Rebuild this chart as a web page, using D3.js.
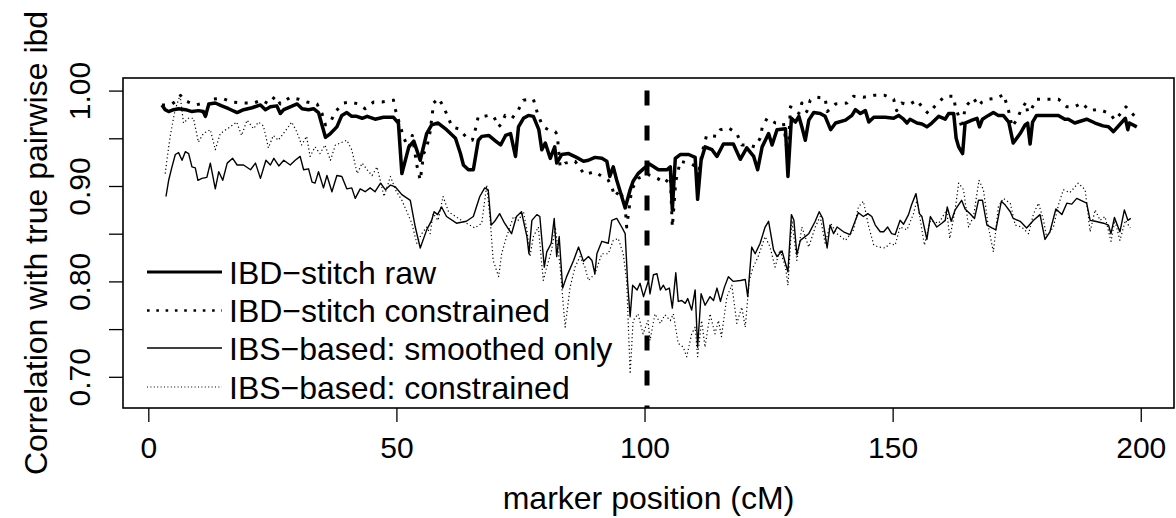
<!DOCTYPE html>
<html>
<head>
<meta charset="utf-8">
<script src="https://cdnjs.cloudflare.com/ajax/libs/d3/7.8.5/d3.min.js"></script>
<style>
  body { margin: 0; background: #fff; }
  text { font-family: "Liberation Sans", Arial, Helvetica, sans-serif; fill: #000; }
</style>
</head>
<body>
<div id="chart"></div>
<script>
// IBD-stitch raw (marker position in cM, correlation)
const rawPos = [2.75,3.4,4.1,5.1,6.1,7.5,8.8,10.1,11.1,11.5,12.2,13.5,14.8,16.2,17.9,19.2,20.9,22.6,23.6,24.6,25.9,26.6,27.3,28.6,30.0,31.0,32.3,33.3,34.3,35.0,35.7,36.7,38.0,39.0,40.0,41.0,42.0,43.1,44.1,45.7,47.4,49.4,50.4,
  51.1,52.5,53.5,54.8,56.1,57.1,58.4,60.1,61.9,62.9,63.5,64.5,65.5,66.5,67.2,68.6,70.0,71.0,72.0,73.0,74.0,74.6,75.6,76.6,77.6,78.7,79.3,80.0,81.0,81.9,82.3,83.3,84.7,86.3,87.7,88.7,90.0,91.4,92.4,93.0,93.7,94.4,96.1,97.1,97.7,98.7,100.0,101.0,
  102.8,104.5,105.2,105.6,106.2,107.2,108.9,110.2,110.7,111.4,112.2,113.6,114.6,115.9,117.9,119.3,120.6,122.0,122.8,123.7,125.0,125.7,126.7,128.4,128.9,129.6,130.4,131.1,131.7,132.4,133.1,134.1,135.4,136.4,137.5,138.5,140.5,141.8,142.5,143.5,144.5,145.2,146.2,148.5,150.2,
  151.2,152.2,152.9,153.5,154.9,155.9,156.9,157.9,159.3,160.6,161.3,162.3,162.8,163.3,164.1,164.6,166.0,167.0,167.5,168.1,169.3,170.3,171.3,172.3,173.4,174.3,175.7,176.7,177.2,177.7,178.2,179.0,180.7,183.4,184.7,185.4,186.7,189.1,190.8,192.4,193.5,194.5,196.9,197.4,197.7,199.2];
const rawCor = [0.985,0.980,0.978,0.980,0.981,0.980,0.978,0.979,0.978,0.973,0.986,0.987,0.984,0.981,0.977,0.980,0.982,0.985,0.980,0.983,0.984,0.976,0.980,0.983,0.986,0.981,0.980,0.981,0.977,0.964,0.951,0.955,0.962,0.974,0.977,0.973,0.973,0.971,0.973,0.970,0.972,0.972,0.966,
  0.913,0.941,0.947,0.927,0.955,0.964,0.966,0.959,0.950,0.934,0.922,0.917,0.917,0.948,0.952,0.953,0.947,0.943,0.953,0.955,0.931,0.962,0.971,0.974,0.973,0.959,0.938,0.945,0.929,0.941,0.924,0.933,0.934,0.930,0.926,0.927,0.930,0.929,0.926,0.910,0.920,0.906,0.877,0.896,0.905,0.913,0.919,0.923,
  0.917,0.917,0.920,0.875,0.929,0.933,0.933,0.930,0.886,0.927,0.941,0.938,0.931,0.944,0.944,0.928,0.940,0.931,0.917,0.941,0.955,0.943,0.959,0.960,0.910,0.971,0.967,0.973,0.962,0.948,0.969,0.977,0.976,0.973,0.959,0.966,0.969,0.974,0.980,0.976,0.979,0.967,0.972,0.972,0.971,
  0.974,0.970,0.966,0.970,0.966,0.965,0.962,0.966,0.973,0.970,0.976,0.976,0.950,0.941,0.934,0.966,0.969,0.971,0.962,0.970,0.974,0.977,0.974,0.974,0.967,0.945,0.955,0.964,0.966,0.944,0.967,0.974,0.974,0.974,0.970,0.970,0.966,0.970,0.966,0.963,0.962,0.957,0.971,0.959,0.966,0.962];

// IBD-stitch constrained
const conPos = [2.75,3.5,4.8,5.8,6.5,7.3,8.1,9.5,10.5,11.4,12.5,14.8,16.9,19.2,21.2,22.9,24.2,25.6,26.6,28.6,30.3,32.0,34.0,35.0,35.7,36.7,37.7,39.4,40.7,42.4,43.7,45.4,47.1,49.4,49.8,51.5,52.5,53.2,54.1,54.8,55.5,56.1,56.8,57.5,58.5,59.5,60.5,61.2,62.5,64.3,65.3,65.9,66.5,67.6,68.6,69.6,70.6,71.3,71.9,73.3,74.6,75.6,77.6,78.6,79.6,80.6,82.0,82.4,83.0,84.0,86.0,87.9,90.0,91.4,92.7,93.4,94.0,95.1,96.1,96.4,97.4,98.7,
  100.7,102.6,104.1,105.2,105.6,106.3,107.2,109.5,110.4,110.8,111.6,112.5,114.6,115.3,116.9,118.6,119.6,120.9,122.3,123.3,123.7,124.7,126.4,128.0,128.9,129.4,130.4,131.1,131.7,132.7,133.4,134.8,136.4,136.8,138.5,140.8,142.1,144.1,146.2,148.4,150.2,150.8,151.8,153.2,154.9,156.2,157.2,158.9,160.5,162.3,162.6,163.5,164.0,164.3,164.6,166.3,167.3,168.0,169.3,171.0,172.4,173.0,173.7,174.0,175.0,175.9,176.9,177.2,177.9,179.0,181.0,183.4,185.1,186.7,188.1,189.7,191.0,191.7,193.8,194.8,196.1,197.0,199.0];
const conCor = [0.985,0.985,0.986,0.990,0.995,0.990,0.988,0.985,0.986,0.971,0.991,0.992,0.988,0.987,0.987,0.990,0.986,0.994,0.986,0.993,0.991,0.988,0.986,0.976,0.964,0.967,0.978,0.987,0.988,0.986,0.981,0.988,0.988,0.990,0.980,0.950,0.940,0.953,0.922,0.906,0.934,0.940,0.957,0.987,0.992,0.983,0.971,0.962,0.960,0.950,0.948,0.959,0.973,0.973,0.974,0.973,0.962,0.966,0.974,0.971,0.980,0.990,0.991,0.973,0.962,0.959,0.957,0.954,0.920,0.924,0.926,0.912,0.915,0.910,0.906,0.899,0.889,0.896,0.878,0.857,0.896,0.908,
  0.912,0.908,0.903,0.910,0.857,0.905,0.926,0.923,0.920,0.910,0.935,0.953,0.952,0.959,0.961,0.955,0.943,0.943,0.941,0.950,0.961,0.971,0.966,0.966,0.930,0.983,0.980,0.976,0.987,0.978,0.990,0.993,0.992,0.978,0.986,0.987,0.994,0.993,0.995,0.995,0.991,0.979,0.987,0.985,0.990,0.981,0.976,0.986,0.994,0.994,0.984,0.970,0.960,0.971,0.983,0.992,0.984,0.988,0.991,0.992,0.996,0.985,0.973,0.962,0.969,0.980,0.988,0.977,0.980,0.991,0.991,0.991,0.983,0.983,0.987,0.979,0.980,0.980,0.976,0.969,0.977,0.983,0.972];

// IBS-based: smoothed only
const smPos = [3.56,4.1,4.77,5.44,6.1,6.8,7.46,8.13,8.8,9.47,10.0,10.8,11.8,12.5,13.5,14.2,15.0,15.9,17.0,17.9,19.2,20.6,21.6,22.6,23.7,24.6,25.3,26.3,27.3,28.6,29.6,30.6,31.3,32.3,33.0,33.6,34.3,35.3,36.0,37.0,38.0,39.0,40.0,41.0,41.7,42.7,43.7,44.7,45.7,46.8,47.8,48.8,
  49.8,51.1,52.8,53.8,54.8,56.1,57.1,57.6,58.3,59.1,60.1,62.1,64.1,65.5,66.8,67.8,68.5,69.1,69.8,70.8,71.8,73.2,74.2,75.2,76.3,76.7,77.3,78.3,78.9,79.8,80.3,81.2,81.8,82.3,82.8,83.5,84.3,85.7,86.7,87.7,88.7,89.4,90.0,90.4,91.4,92.7,93.4,94.4,95.4,96.1,96.6,97.1,97.6,98.5,99.1,99.8,
  100.8,101.1,101.8,102.5,103.2,103.8,104.3,105.0,105.6,106.3,106.8,107.5,108.2,108.7,109.5,110.2,110.7,111.4,112.2,113.2,113.9,114.6,115.3,116.1,116.9,117.9,119.3,120.3,120.8,121.6,122.3,123.3,124.3,125.0,126.0,126.7,127.7,128.4,128.9,129.6,130.1,130.7,131.4,133.1,134.4,135.2,135.9,136.8,137.4,138.1,138.8,140.1,141.4,142.5,143.1,144.1,145.0,145.8,146.5,147.5,148.2,149.0,149.8,
  150.5,151.5,152.2,153.2,153.8,154.7,155.4,155.9,156.9,157.6,158.9,159.9,160.6,161.0,161.8,162.6,163.9,164.6,165.6,166.5,167.3,168.1,169.0,170.0,170.8,171.9,172.7,173.7,174.3,175.7,177.0,178.4,179.7,180.7,181.7,182.9,184.1,185.1,186.1,187.1,189.1,189.8,190.8,192.5,193.5,194.0,194.7,195.8,196.7,197.4,198.0];
const smCor = [0.889,0.906,0.920,0.933,0.935,0.927,0.936,0.934,0.920,0.919,0.906,0.908,0.909,0.924,0.897,0.915,0.906,0.924,0.929,0.922,0.922,0.917,0.924,0.908,0.927,0.922,0.929,0.921,0.927,0.922,0.927,0.931,0.917,0.918,0.904,0.903,0.915,0.898,0.911,0.894,0.911,0.910,0.897,0.898,0.887,0.897,0.894,0.898,0.894,0.903,0.896,0.901,
  0.899,0.891,0.885,0.857,0.835,0.854,0.864,0.873,0.870,0.878,0.868,0.861,0.863,0.868,0.889,0.898,0.896,0.859,0.863,0.871,0.861,0.850,0.868,0.873,0.847,0.829,0.864,0.870,0.868,0.815,0.831,0.840,0.866,0.826,0.847,0.793,0.805,0.822,0.836,0.821,0.826,0.822,0.808,0.829,0.842,0.840,0.864,0.866,0.857,0.850,0.798,0.763,0.796,0.791,0.798,0.784,
  0.801,0.787,0.807,0.808,0.791,0.796,0.791,0.793,0.772,0.809,0.779,0.780,0.777,0.782,0.770,0.791,0.731,0.787,0.775,0.784,0.780,0.793,0.779,0.794,0.805,0.800,0.801,0.802,0.784,0.836,0.829,0.840,0.857,0.863,0.833,0.826,0.832,0.819,0.810,0.870,0.864,0.828,0.843,0.850,0.863,0.873,0.866,0.835,0.859,0.850,0.857,0.852,0.849,0.864,0.872,0.868,0.871,0.868,0.859,0.852,0.852,0.857,0.850,
  0.849,0.864,0.860,0.870,0.880,0.892,0.871,0.868,0.844,0.868,0.857,0.861,0.864,0.878,0.863,0.875,0.885,0.876,0.871,0.866,0.885,0.885,0.859,0.856,0.854,0.884,0.880,0.873,0.866,0.863,0.856,0.864,0.870,0.844,0.852,0.876,0.870,0.882,0.881,0.887,0.882,0.864,0.863,0.861,0.859,0.850,0.867,0.852,0.875,0.864,0.866];

// IBS-based: constrained
const icPos = [3.4,4.4,5.4,6.4,7.1,8.1,9.1,10.1,11.1,12.5,13.5,14.5,16.5,17.8,18.8,19.9,21.2,22.2,23.2,24.2,25.2,26.2,27.5,28.9,29.9,30.9,31.9,32.6,33.6,34.6,35.6,36.7,37.7,38.7,40.0,41.0,42.1,43.1,44.1,45.1,46.1,47.5,48.8,
  49.8,51.1,53.1,54.1,55.1,56.1,56.8,57.4,58.4,59.4,60.5,62.5,64.1,65.8,67.2,68.2,68.9,69.5,70.6,71.2,72.2,73.6,74.6,75.6,76.3,76.9,77.6,78.6,79.6,80.3,81.3,82.0,83.0,84.0,85.0,86.0,87.0,88.0,88.7,90.0,91.4,92.7,93.7,94.7,95.7,96.4,97.1,97.7,98.7,99.7,
  100.7,101.1,102.1,103.2,104.1,105.2,105.8,106.8,107.8,108.5,109.5,110.2,110.7,111.5,112.2,113.2,114.2,114.9,115.5,116.6,117.6,118.6,119.6,120.3,121.1,121.9,122.9,124.3,125.3,126.3,127.3,128.4,128.9,129.7,130.7,131.7,133.1,134.4,135.4,136.4,137.5,138.8,140.5,142.1,143.1,144.1,145.2,146.2,147.2,148.5,149.5,
  150.5,151.5,152.9,154.2,154.9,155.6,156.4,157.6,159.3,160.9,161.5,162.6,163.3,164.3,165.3,166.3,167.4,168.3,169.3,170.3,171.3,172.3,173.7,174.7,176.0,177.4,178.4,179.4,180.4,181.0,182.4,183.4,184.4,185.7,187.4,188.8,189.8,190.8,191.8,192.8,194.0,194.8,195.8,196.9,197.9];
const icCor = [0.913,0.952,0.980,0.995,0.966,0.971,0.971,0.946,0.955,0.959,0.938,0.955,0.962,0.967,0.953,0.969,0.960,0.967,0.963,0.940,0.953,0.948,0.957,0.967,0.957,0.943,0.952,0.931,0.941,0.934,0.943,0.927,0.943,0.945,0.948,0.938,0.913,0.924,0.917,0.911,0.920,0.889,0.910,
  0.896,0.885,0.861,0.840,0.850,0.857,0.850,0.871,0.864,0.889,0.873,0.866,0.861,0.856,0.861,0.901,0.864,0.822,0.805,0.829,0.847,0.868,0.864,0.873,0.854,0.826,0.847,0.857,0.801,0.815,0.833,0.857,0.815,0.752,0.794,0.815,0.826,0.815,0.801,0.808,0.829,0.829,0.843,0.845,0.829,0.801,0.703,0.759,0.766,0.745,
  0.759,0.738,0.766,0.756,0.765,0.759,0.766,0.735,0.731,0.721,0.745,0.752,0.721,0.759,0.731,0.766,0.745,0.759,0.742,0.784,0.796,0.756,0.773,0.752,0.801,0.815,0.826,0.847,0.836,0.815,0.833,0.815,0.796,0.864,0.822,0.857,0.836,0.857,0.868,0.840,0.861,0.850,0.843,0.854,0.878,0.884,0.857,0.838,0.836,0.835,0.840,
  0.838,0.857,0.854,0.871,0.885,0.864,0.838,0.864,0.861,0.875,0.845,0.875,0.903,0.896,0.857,0.868,0.906,0.896,0.857,0.831,0.878,0.887,0.882,0.859,0.857,0.850,0.871,0.882,0.864,0.847,0.857,0.880,0.896,0.893,0.903,0.896,0.852,0.875,0.864,0.868,0.842,0.864,0.843,0.864,0.856];

// vertical reference line and axis ticks
const cutPos = 100.5;
const cutRange = [1.0, 0.66];
const xTicks = [0, 50, 100, 150, 200];
const yTicks = [0.70, 0.75, 0.80, 0.85, 0.90, 0.95, 1.00];
const yTickLabels = ["0.70", "", "0.80", "", "0.90", "", "1.00"];
const legendLabels = ["IBD\u2212stitch raw", "IBD\u2212stitch constrained", "IBS\u2212based: smoothed only", "IBS\u2212based: constrained"];

// canvas size and plot box
const width = 1176;
const height = 518;
const plotLeft = 123;
const plotRight = 1174;
const plotTop = 78;
const plotBottom = 408;
const fontSize = 32;
const tickFontSize = 30;

const svg = d3
  .select("#chart")
  .append("svg")
  .attr("width", width)
  .attr("height", height);

const xScale = d3.scaleLinear().domain([-5.1, 206.7]).range([plotLeft, plotRight]);
const yScale = d3.scaleLinear().domain([0.6673, 1.0132]).range([plotBottom, plotTop]);

svg
  .append("clipPath")
  .attr("id", "plotClip")
  .append("rect")
  .attr("x", plotLeft)
  .attr("y", plotTop)
  .attr("width", plotRight - plotLeft)
  .attr("height", plotBottom - plotTop);

const line = d3
  .line()
  .x((d) => xScale(d[0]))
  .y((d) => yScale(d[1]));

const series = [
  { pos: rawPos, cor: rawCor, width: 3.5, dash: null },
  { pos: conPos, cor: conCor, width: 3, dash: "3,7.5" },
  { pos: smPos, cor: smCor, width: 1.4, dash: null },
  { pos: icPos, cor: icCor, width: 1.2, dash: "1.2,2.6" },
];

const plotG = svg.append("g").attr("clip-path", "url(#plotClip)");

series.forEach(function (s) {
  plotG
    .append("path")
    .datum(s.pos.map((p, i) => [p, s.cor[i]]))
    .attr("d", line)
    .attr("fill", "none")
    .attr("stroke", "#000")
    .attr("stroke-width", s.width)
    .attr("stroke-linejoin", "round")
    .attr("stroke-dasharray", s.dash);
});

// dashed marker line
plotG
  .append("line")
  .attr("x1", xScale(cutPos))
  .attr("x2", xScale(cutPos))
  .attr("y1", yScale(cutRange[0]))
  .attr("y2", yScale(cutRange[1]))
  .attr("stroke", "#000")
  .attr("stroke-width", 5)
  .attr("stroke-dasharray", "15,20");

// axes
const xAxis = svg
  .append("g")
  .attr("transform", "translate(0," + plotBottom + ")")
  .call(d3.axisBottom(xScale).tickValues(xTicks).tickSize(14).tickSizeOuter(0));

xAxis
  .selectAll("text")
  .attr("y", 50)
  .attr("dy", 0)
  .style("font-size", tickFontSize + "px");

const yAxis = svg
  .append("g")
  .attr("transform", "translate(" + plotLeft + ",0)")
  .call(
    d3
      .axisLeft(yScale)
      .tickValues(yTicks)
      .tickSize(14)
      .tickSizeOuter(0)
      .tickFormat((d, i) => yTickLabels[i])
  );

yAxis
  .selectAll("text")
  .attr("x", null)
  .attr("dy", null)
  .attr("text-anchor", "middle")
  .attr("transform", "translate(-33,0) rotate(-90)")
  .style("font-size", tickFontSize + "px");

svg.selectAll(".tick line").attr("stroke", "#000").attr("stroke-width", 1.3);
svg.selectAll(".domain").remove();

// plot box
svg
  .append("rect")
  .attr("x", plotLeft)
  .attr("y", plotTop)
  .attr("width", plotRight - plotLeft)
  .attr("height", plotBottom - plotTop)
  .attr("fill", "none")
  .attr("stroke", "#000")
  .attr("stroke-width", 1.6);

// axis titles
svg
  .append("text")
  .attr("x", (plotLeft + plotRight) / 2)
  .attr("y", 509)
  .attr("text-anchor", "middle")
  .style("font-size", fontSize + "px")
  .text("marker position (cM)");

svg
  .append("text")
  .attr("transform", "translate(47," + (plotTop + plotBottom) / 2 + ") rotate(-90)")
  .attr("text-anchor", "middle")
  .style("font-size", fontSize + "px")
  .text("Correlation with true pairwise ibd");

// legend, no box
const legendRows = [272, 310.5, 348, 387];
const legend = svg
  .selectAll(".legend")
  .data(legendLabels)
  .enter()
  .append("g")
  .attr("class", "legend")
  .attr("transform", (d, i) => "translate(0," + legendRows[i] + ")");

legend
  .append("line")
  .attr("x1", 147)
  .attr("x2", 222)
  .attr("stroke", "#000")
  .attr("stroke-width", (d, i) => [3, 2.6, 1.3, 1][i])
  .attr("stroke-dasharray", (d, i) => [null, "2.6,6.7", null, "1,2.4"][i]);

legend
  .append("text")
  .attr("x", 229)
  .attr("y", 11.5)
  .style("font-size", fontSize + "px")
  .text((d) => d);
</script>
</body>
</html>
